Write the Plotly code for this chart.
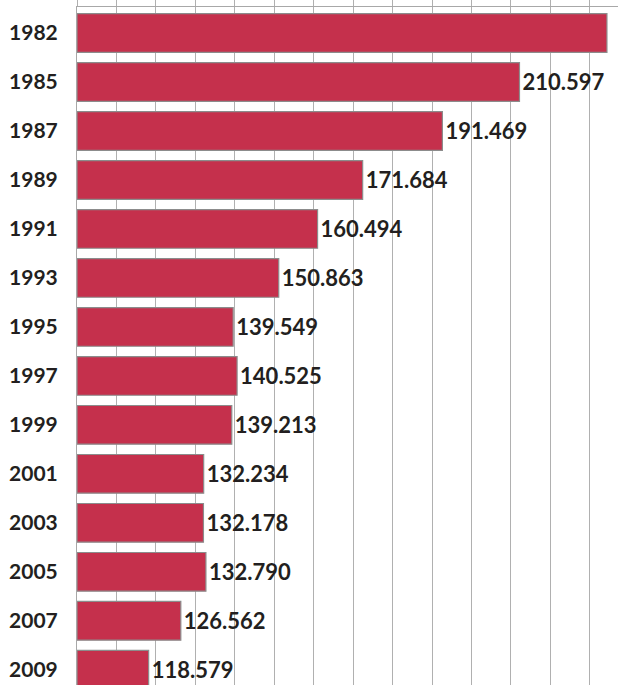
import plotly.graph_objects as go

years = ["1982", "1985", "1987", "1989", "1991", "1993", "1995",
         "1997", "1999", "2001", "2003", "2005", "2007", "2009"]
values = [232.3, 210.597, 191.469, 171.684, 160.494, 150.863, 139.549,
          140.525, 139.213, 132.234, 132.178, 132.790, 126.562, 118.579]
labels = ["", "210.597", "191.469", "171.684", "160.494", "150.863", "139.549",
          "140.525", "139.213", "132.234", "132.178", "132.790", "126.562", "118.579"]

BASE = 100.8
bar_color = "#C5304C"
text_color = "#231F20"
font_family = "Lato"

fig = go.Figure()
fig.add_trace(go.Bar(
    y=years,
    x=[v - BASE for v in values],
    base=BASE,
    orientation="h",
    width=0.79,
    marker=dict(color=bar_color, line=dict(color="#8C8C8C", width=1.2)),
    text=labels,
    textposition="outside",
    cliponaxis=False,
    textfont=dict(family=font_family, size=22, color=text_color, weight="bold"),
    hoverinfo="skip",
))

fig.update_layout(
    width=618, height=685,
    margin=dict(l=77, r=0, t=7, b=0),
    paper_bgcolor="white",
    plot_bgcolor="white",
    showlegend=False,
    uniformtext=dict(mode=False),
)
fig.update_xaxes(
    range=[BASE, BASE + 541 / 4.03],
    side="top",
    tick0=BASE,
    dtick=9.79,
    showgrid=True,
    gridcolor="#B0B0B0",
    gridwidth=1,
    showticklabels=False,
    ticks="outside",
    ticklen=7,
    tickcolor="#B0B0B0",
    showline=True,
    linecolor="#A8A8A8",
    linewidth=1,
    zeroline=False,
)
fig.update_yaxes(
    type="category",
    categoryorder="array",
    categoryarray=years,
    range=[13.31, -0.53],
    showgrid=False,
    showline=True,
    linecolor="#A8A8A8",
    linewidth=1,
    ticks="",
    ticklabelstandoff=14,
    tickfont=dict(family=font_family, size=21, color=text_color, weight="bold"),
)

fig.write_html("out.html")
